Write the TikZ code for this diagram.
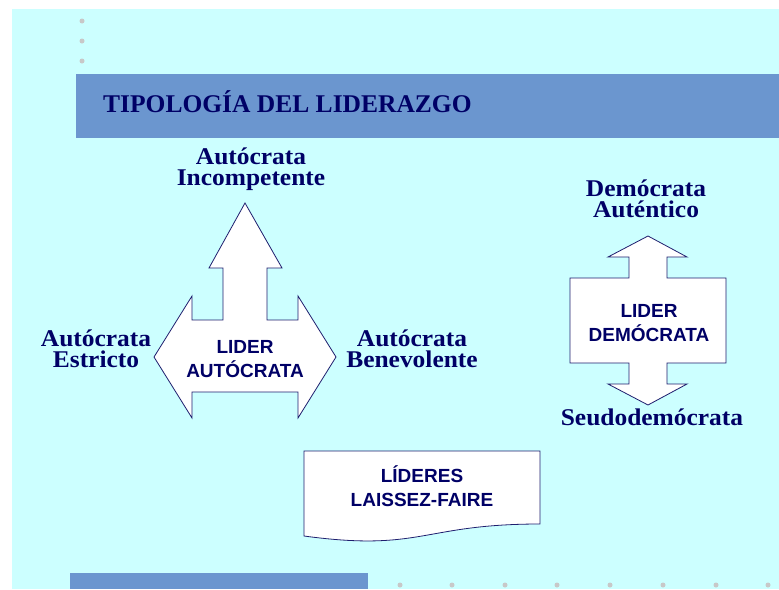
\documentclass[tikz,border=0pt]{standalone}
\usepackage{fontspec}
\setmainfont{Liberation Serif}
\newfontfamily\sansfont{Liberation Sans}
\newfontfamily\lblfont{Liberation Serif}[FakeStretch=1.06]
\definecolor{bgcyan}{RGB}{204,255,255}
\definecolor{barblue}{RGB}{107,150,207}
\definecolor{navy}{RGB}{0,0,102}
\definecolor{dotgray}{RGB}{200,200,200}
\definecolor{edgenavy}{RGB}{30,30,110}
\begin{document}
\begin{tikzpicture}[x=1pt,y=-1pt,
  lbl/.style={font=\lblfont\bfseries\fontsize{24}{20.5}\selectfont, text=navy, align=center, inner sep=0, anchor=base},
  inlbl/.style={font=\sansfont\bfseries\fontsize{19}{24}\selectfont, text=navy, align=center, inner sep=0, anchor=base},
  shapebox/.style={draw=edgenavy, fill=white, line width=0.8pt, line join=miter},
  gdot/.style={circle, fill=dotgray, inner sep=0, minimum size=5pt}]
\useasboundingbox (0,0) rectangle (779,589);
\fill[white] (0,0) rectangle (779,589);
\fill[bgcyan] (12,9) rectangle (779,589);
% dots
\node[gdot] (d1) at (82,21) {};
\node[gdot] (d2) at (82,41) {};
\node[gdot] (d3) at (82,61) {};
\foreach \i/\xx in {1/400,2/452,3/505,4/557,5/610,6/663,7/716,8/768}
  \node[gdot] (b\i) at (\xx,585) {};
% bars
\fill[barblue] (76,74) rectangle (779,138);
\fill[barblue] (70,573) rectangle (368,589);
\node[font=\bfseries\fontsize{25.5}{28}\selectfont, text=navy, inner sep=0, anchor=base west] (title) at (103,112) {TIPOLOGÍA DEL LIDERAZGO};
% autocrat shape
\draw[shapebox] (245,203) -- (282,268) -- (267,268) -- (267,320) -- (298,320) -- (298,296)
  -- (336,357) -- (298,418) -- (298,392) -- (192,392) -- (192,418) -- (154,357)
  -- (192,296) -- (192,320) -- (223,320) -- (223,268) -- (209,268) -- cycle;
\node[inlbl] (aut) at (245,377) {LIDER\\AUTÓCRATA};
% democrat shape
\draw[shapebox] (648,236) -- (687,257) -- (667,257) -- (667,278) -- (726,278) -- (726,363)
  -- (667,363) -- (667,384) -- (687,384) -- (648,405) -- (608,384) -- (629,384)
  -- (629,363) -- (570,363) -- (570,278) -- (629,278) -- (629,257) -- (608,257) -- cycle;
\node[inlbl] (dem) at (649,341) {LIDER\\DEMÓCRATA};
% laissez-faire document
\draw[shapebox] (304,451) -- (540,451) -- (540,524)
  .. controls (422,524) and (422,552) .. (304,536) -- cycle;
\node[inlbl] (lf) at (422,506) {LÍDERES\\LAISSEZ-FAIRE};
% labels
\node[lbl] (inc) at (251,185) {Autócrata\\Incompetente};
\node[lbl] (est) at (96,367) {Autócrata\\Estricto};
\node[lbl] (ben) at (412,367) {Autócrata\\Benevolente};
\node[lbl] (aut2) at (646,217) {Demócrata\\Auténtico};
\node[lbl] (seu) at (652,425) {Seudodemócrata};
\end{tikzpicture}
\end{document}
